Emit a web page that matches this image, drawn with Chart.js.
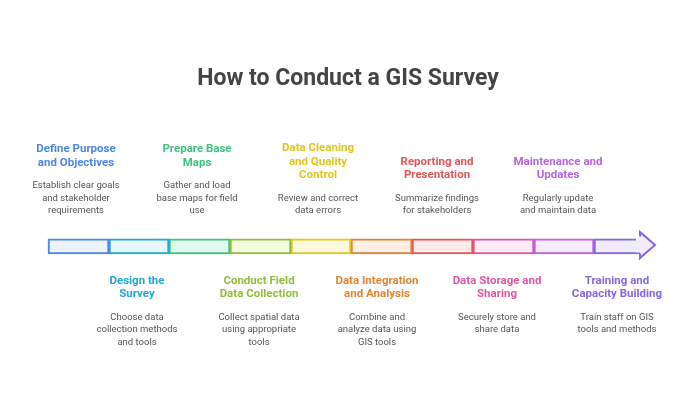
<!DOCTYPE html>
<html><head><meta charset="utf-8">
<script src="https://cdn.jsdelivr.net/npm/chart.js@4"></script>
<style>html,body{margin:0;background:#fff}#wrap{width:696px;height:402px}</style>
</head><body><div id="wrap"><canvas id="c"></canvas></div>
<script>
const steps = ['Define Purpose and Objectives', 'Design the Survey', 'Prepare Base Maps', 'Conduct Field Data Collection', 'Data Cleaning and Quality Control', 'Data Integration and Analysis', 'Reporting and Presentation', 'Data Storage and Sharing', 'Maintenance and Updates', 'Training and Capacity Building'];
const titleLines = [['Define Purpose', 'and Objectives'], ['Design the', 'Survey'], ['Prepare Base', 'Maps'], ['Conduct Field', 'Data Collection'], ['Data Cleaning', 'and Quality', 'Control'], ['Data Integration', 'and Analysis'], ['Reporting and', 'Presentation'], ['Data Storage and', 'Sharing'], ['Maintenance and', 'Updates'], ['Training and', 'Capacity Building']];
const descLines = [['Establish clear goals', 'and stakeholder', 'requirements'], ['Choose data', 'collection methods', 'and tools'], ['Gather and load', 'base maps for field', 'use'], ['Collect spatial data', 'using appropriate', 'tools'], ['Review and correct', 'data errors'], ['Combine and', 'analyze data using', 'GIS tools'], ['Summarize findings', 'for stakeholders'], ['Securely store and', 'share data'], ['Regularly update', 'and maintain data'], ['Train staff on GIS', 'tools and methods']];
const segStart = [48, 109, 169, 230, 291, 351, 412, 473, 534, 594];
const segEnd = [109, 169, 230, 291, 351, 412, 473, 534, 594, 640];
const textX = [76, 137, 197, 259, 318, 377, 437, 497, 558, 617];
const strokes = ['#4a86e8', '#1ea8d8', '#3cc47e', '#93bd38', '#e2c61c', '#e08532', '#e15656', '#e056a6', '#b864e2', '#8466e2'];
const fills = ['#edf3fe', '#e7f7fd', '#e3fbef', '#f2fbdc', '#fef9dc', '#fef0e3', '#feeaea', '#fdebf6', '#f7ecfd', '#f0edfd'];

const labelPlugin = {
  id: 'labels',
  afterDatasetsDraw(chart) {
    const { ctx, scales: { x } } = chart;
    // arrow head on last segment
    ctx.save();
    ctx.beginPath();
    ctx.moveTo(x.getPixelForValue(640), 236.5);
    ctx.lineTo(x.getPixelForValue(640), 232);
    ctx.lineTo(x.getPixelForValue(655), 245);
    ctx.lineTo(x.getPixelForValue(640), 258);
    ctx.lineTo(x.getPixelForValue(640), 253.5);
    ctx.fillStyle = fills[9]; ctx.fill();
    ctx.lineWidth = 2; ctx.strokeStyle = strokes[9]; ctx.lineJoin = 'miter'; ctx.stroke();
    ctx.fillRect(x.getPixelForValue(636), 237.5, 6, 15);
    ctx.textAlign = 'center'; ctx.textBaseline = 'middle';
    steps.forEach((s, i) => {
      const cx = x.getPixelForValue(textX[i]);
      const t = titleLines[i], d = descLines[i];
      let y;
      if (i % 2 === 0) {
        y = 211 - (d.length - 1) * 12.5 - 23 - (t.length - 1) * 13.5;
      } else {
        y = 281;
      }
      ctx.font = 'bold 11.5px Roboto, "Liberation Sans", sans-serif';
      ctx.fillStyle = strokes[i];
      t.forEach(l => { ctx.fillText(l, cx, y); y += 13.5; });
      y += 9.5;
      ctx.font = '9.5px Roboto, "Liberation Sans", sans-serif';
      ctx.fillStyle = '#555';
      d.forEach(l => { ctx.fillText(l, cx, y); y += 12.5; });
    });
    ctx.restore();
  }
};

new Chart(document.getElementById('c'), {
  type: 'bar',
  data: {
    labels: ['steps'],
    datasets: steps.map((s, i) => ({
      label: s,
      data: [[segStart[i], segEnd[i]]],
      backgroundColor: fills[i],
      borderColor: strokes[i],
      borderWidth: 2,
      borderSkipped: false,
      barThickness: 15,
      grouped: false
    }))
  },
  options: {
    indexAxis: 'y',
    responsive: true,
    maintainAspectRatio: false,
    animation: false,
    layout: { padding: { top: 0, bottom: 2, left: 0, right: 0 } },
    plugins: {
      legend: { display: false },
      tooltip: { enabled: false },
      title: { display: true, text: 'How to Conduct a GIS Survey', color: '#444', font: { size: 23, weight: 'bold', family: 'Roboto, "Liberation Sans", sans-serif' }, padding: { top: 65, bottom: 0 } }
    },
    scales: {
      x: { type: 'linear', min: 0, max: 696, display: false },
      y: { display: false }
    }
  },
  plugins: [labelPlugin]
});
</script></body></html>
